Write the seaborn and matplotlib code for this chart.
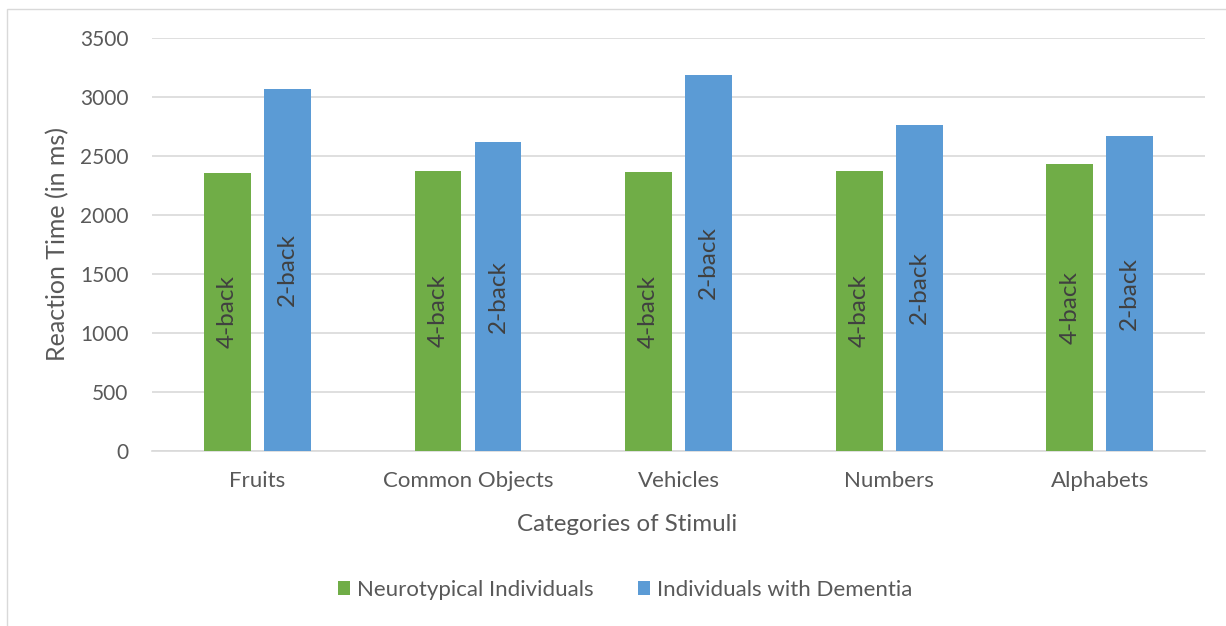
import matplotlib
matplotlib.use("Agg")
import matplotlib.pyplot as plt
import seaborn as sns
import pandas as pd
from matplotlib.patches import Patch, Rectangle

categories = ["Fruits", "Common Objects", "Vehicles", "Numbers", "Alphabets"]
neurotypical = [2355, 2376, 2368, 2374, 2436]
dementia = [3072, 2617, 3191, 2764, 2668]
group_names = ["Neurotypical Individuals", "Individuals with Dementia"]
bar_labels = ["4-back", "2-back"]
yticks = [0, 500, 1000, 1500, 2000, 2500, 3000, 3500]

colors = ["#70AD47", "#5B9BD5"]
text_color = "#595959"

df = pd.DataFrame({
    "Category": categories * 2,
    "Group": [group_names[0]] * len(categories) + [group_names[1]] * len(categories),
    "Time": neurotypical + dementia,
})

sns.set_theme(style="white")
plt.rcParams["font.family"] = ["Lato", "DejaVu Sans"]

fig = plt.figure(figsize=(12.26, 6.26), dpi=100)
ax = fig.add_axes([0.124, 0.2802, 0.859, 0.6586])

sns.barplot(data=df, x="Category", y="Time", hue="Group", hue_order=group_names,
            order=categories, palette=colors, saturation=1, width=0.57, gap=0.22,
            linewidth=0, ax=ax, legend=False, zorder=3)

ax.set_ylim(0, 3500)
ax.set_xlim(-0.5, len(categories) - 0.5)
ax.set_yticks(yticks)
ax.set_yticklabels([str(t) for t in yticks])
ax.yaxis.grid(True, color="#D9D9D9", linewidth=1.2, zorder=0)
ax.set_axisbelow(True)
for side in ["top", "right", "left"]:
    ax.spines[side].set_visible(False)
ax.spines["bottom"].set_color("#D9D9D9")
ax.spines["bottom"].set_linewidth(1.2)
ax.tick_params(axis="both", length=0, colors=text_color)
ax.tick_params(axis="y", pad=17, labelsize=15)
ax.tick_params(axis="x", pad=15, labelsize=16)

ax.set_ylabel("Reaction Time (in ms)", fontsize=18, color=text_color, labelpad=8)
ax.set_xlabel("Categories of Stimuli", fontsize=17.4, color=text_color, labelpad=16)
ax.xaxis.label.set_x(0.4516)

# rotated condition labels centred inside each bar
for container, lab in zip(ax.containers, bar_labels):
    for bar in container:
        cx = bar.get_x() + bar.get_width() / 2
        cy = bar.get_height() / 2
        ax.text(cx, cy, lab, rotation=90, ha="center", va="center",
                fontsize=17.5, color="#404040", zorder=4)

handles = [Patch(facecolor=c, edgecolor="none") for c in colors]
fig.legend(handles, group_names, loc="center", bbox_to_anchor=(0.51, 0.0575),
           ncol=2, frameon=False, fontsize=16, labelcolor=text_color,
           handlelength=0.55, handleheight=0.55, handletextpad=0.3, columnspacing=2.0)

# light chart-area frame
fig.add_artist(Rectangle((7 / 1226, -0.05), 1.2, 1 - 9 / 626 + 0.05,
                         transform=fig.transFigure, fill=False,
                         edgecolor="#D9D9D9", linewidth=1.0))

fig.savefig("out.png", dpi=100)
